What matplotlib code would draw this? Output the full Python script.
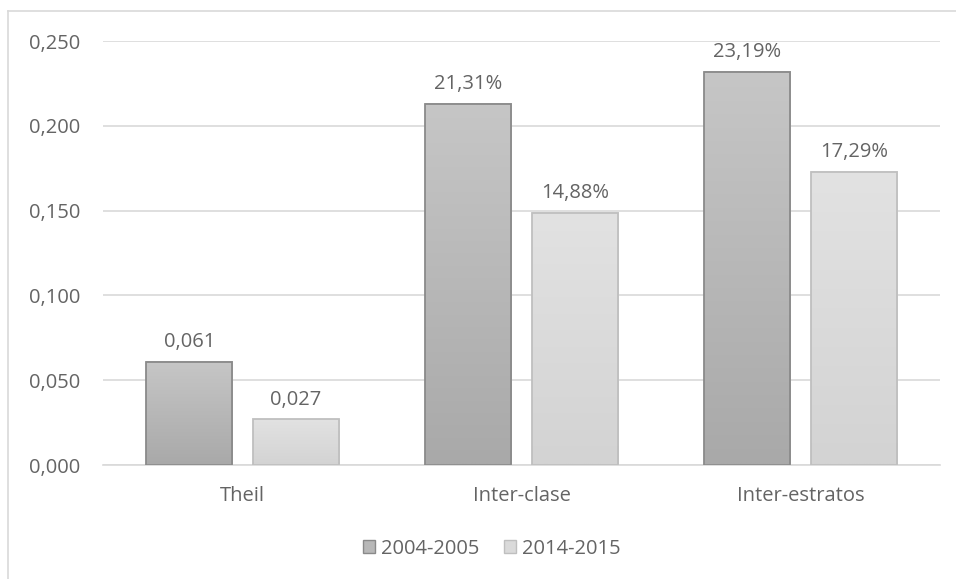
import matplotlib
matplotlib.use('Agg')
import matplotlib.pyplot as plt
from matplotlib.lines import Line2D
from matplotlib.patches import Rectangle
import numpy as np

plt.rcParams['font.family'] = ['Open Sans', 'DejaVu Sans']

categories = ['Theil', 'Inter-clase', 'Inter-estratos']
series = ['2004-2005', '2014-2015']
values_2004 = [0.061, 0.2131, 0.2319]
values_2014 = [0.027, 0.1488, 0.1729]
labels_2004 = ['0,061', '21,31%', '23,19%']
labels_2014 = ['0,027', '14,88%', '17,29%']
yticks = [0.0, 0.05, 0.10, 0.15, 0.20, 0.25]

text_col = '#646464'
grid_col = '#d9d9d9'
fs = 14.5

fig = plt.figure(figsize=(9.56, 5.79), dpi=100)
ax = fig.add_axes([103 / 956, 1 - 465 / 579, 837 / 956, 424 / 579])

# frame around the chart area
fig.add_artist(Line2D([8 / 956, 8 / 956], [0, 1 - 11 / 579], transform=fig.transFigure,
                      color=grid_col, lw=1.2))
fig.add_artist(Line2D([8 / 956, 1], [1 - 11 / 579, 1 - 11 / 579], transform=fig.transFigure,
                      color=grid_col, lw=1.2))

x = np.arange(len(categories))
width = 0.31
gap = 0.072

styles = [
    (values_2004, labels_2004, '#c6c6c6', '#a9a9a9', '#8a8a8a', -1),
    (values_2014, labels_2014, '#e2e2e2', '#d3d3d3', '#bfbfbf', 1),
]


def grad_bar(ax, xc, h, top_c, bot_c, edge):
    c1 = np.array(matplotlib.colors.to_rgb(top_c))
    c2 = np.array(matplotlib.colors.to_rgb(bot_c))
    t = np.linspace(0, 1, 64)[:, None]
    img = (c1 * (1 - t) + c2 * t)[:, None, :]
    ax.imshow(img, extent=[xc - width / 2, xc + width / 2, 0, h], aspect='auto',
              origin='upper', zorder=2, interpolation='bilinear')
    ax.add_patch(Rectangle((xc - width / 2, 0), width, h, fill=False,
                           edgecolor=edge, lw=1.3, zorder=3))


for vals, labs, top_c, bot_c, edge, side in styles:
    for i, (v, lab) in enumerate(zip(vals, labs)):
        xc = x[i] + side * (width / 2 + gap / 2)
        grad_bar(ax, xc, v, top_c, bot_c, edge)
        ax.text(xc, v + 0.0055, lab, ha='center', va='bottom', fontsize=fs,
                color=text_col)

ax.set_xlim(-0.5, len(categories) - 0.5)
ax.set_ylim(0, 0.25)
ax.set_yticks(yticks)
ax.set_yticklabels(['{:.3f}'.format(t).replace('.', ',') for t in yticks])
ax.set_xticks(x)
ax.set_xticklabels(categories)
ax.tick_params(axis='both', length=0, labelsize=fs, colors=text_col)
ax.tick_params(axis='y', pad=16.5)
ax.tick_params(axis='x', pad=15)
ax.grid(axis='y', color=grid_col, lw=1.2, zorder=0)
ax.set_axisbelow(True)
for s in ['top', 'right', 'left']:
    ax.spines[s].set_visible(False)
ax.spines['bottom'].set_color(grid_col)
ax.spines['bottom'].set_linewidth(1.2)

handles = [Rectangle((0, 0), 1, 1, facecolor='#b8b8b8', edgecolor='#8a8a8a'),
           Rectangle((0, 0), 1, 1, facecolor='#dadada', edgecolor='#bfbfbf')]
fig.legend(handles, series, loc='center', bbox_to_anchor=(492 / 956, 1 - 549 / 579),
           ncol=2, frameon=False, fontsize=fs, labelcolor=text_col,
           handlelength=0.62, handleheight=0.62, handletextpad=0.3, columnspacing=1.2)

fig.savefig('out.png', dpi=100)
